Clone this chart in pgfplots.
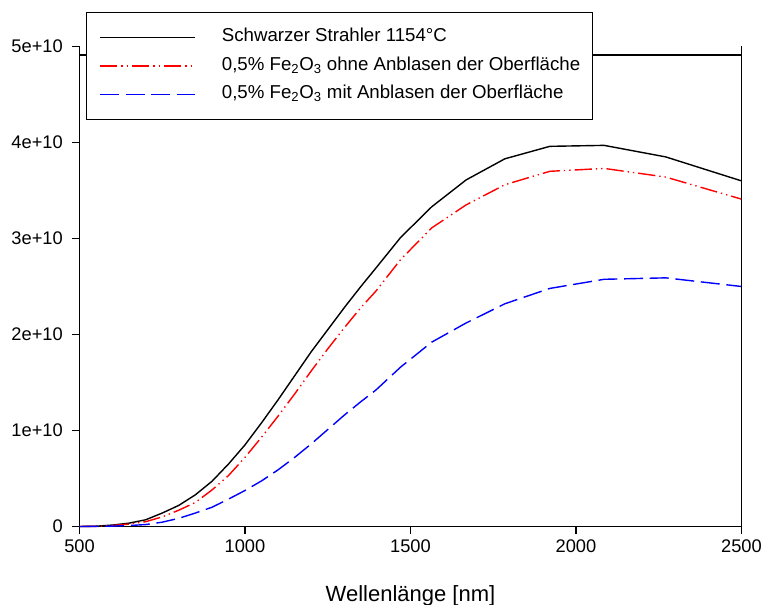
\documentclass[border=0pt]{standalone}
\usepackage{fontspec}
\setmainfont{Liberation Sans}
\usepackage{pgfplots}
\usepackage{pgfplotstable}
\pgfplotsset{compat=1.18}

% spectral radiance, in units of 1e10
\pgfplotstableread{
x     black  red    blue
500   0.000  0.000  0.000
550   0.003  0.002  0.001
600   0.015  0.010  0.004
650   0.035  0.025  0.010
700   0.070  0.050  0.020
750   0.140  0.100  0.045
800   0.220  0.170  0.085
850   0.330  0.250  0.140
900   0.470  0.380  0.200
950   0.650  0.530  0.285
1000  0.850  0.720  0.375
1050  1.080  0.930  0.475
1100  1.320  1.150  0.590
1150  1.570  1.380  0.720
1200  1.820  1.620  0.860
1250  2.050  1.850  1.010
1300  2.280  2.070  1.160
1350  2.500  2.280  1.300
1395  2.690  2.450  1.420
1470  3.010  2.780  1.660
1564  3.330  3.110  1.920
1668  3.610  3.350  2.120
1785  3.830  3.560  2.320
1921  3.960  3.700  2.480
2085  3.970  3.730  2.575
2271  3.850  3.640  2.590
2500  3.600  3.410  2.500
}\spectra

\begin{document}
\begin{tikzpicture}
\begin{axis}[
  at={(0,0)}, anchor=south west,
  scale only axis,
  width=496.5pt, height=360pt,
  xmin=500, xmax=2500,
  ymin=0, ymax=5e10,
  axis x line*=bottom, axis y line*=left,
  axis line style={line width=0.9pt},
  tick align=outside,
  major tick length=5.6pt,
  every tick/.style={black, line width=0.9pt},
  xtick={500,1000,...,2500},
  ytick={0,1e10,2e10,3e10,4e10,5e10},
  yticklabels={0,1e+10,2e+10,3e+10,4e+10,5e+10},
  scaled y ticks=false,
  /pgf/number format/assume math mode=true,
  /pgf/number format/1000 sep={},
  tick label style={font=\fontsize{13.7}{16}\selectfont, inner sep=0pt},
  xticklabel shift=4.5pt,
  yticklabel shift=6.75pt,
  xlabel={Wellenlänge [nm]},
  xlabel style={at={(axis description cs:0.5,0)}, anchor=base, yshift=-55.9pt,
    font=\fontsize{16.5}{19}\selectfont},
  clip=false,
  legend cell align=left,
  legend image code/.code={\draw[#1] (0pt,0pt) -- (71pt,0pt);},
  legend style={
    at={(axis description cs:0.0098,1.0719)}, anchor=north west,
    draw=black, line width=0.75pt, fill=white,
    inner xsep=9.5pt, inner ysep=12pt, row sep=7.9pt, column sep=20pt,
    font=\fontsize{14}{16.8}\selectfont,
    nodes={inner sep=0pt, text height=10pt, text depth=3.5pt},
  },
]
\addplot[black, line width=1.05pt] table[x=x, y expr=\thisrow{black}*1e10] {\spectra};
\addlegendentry{Schwarzer Strahler 1154°C}
\addplot[red, line width=1.05pt, dash pattern=on 13pt off 3pt on 1pt off 3pt on 1pt off 3pt]
  table[x=x, y expr=\thisrow{red}*1e10] {\spectra};
\addlegendentry{0,5\% Fe\textsubscript{2}O\textsubscript{3} ohne Anblasen der Oberfläche}
\addplot[blue, line width=1.05pt, dash pattern=on 14.25pt off 5pt]
  table[x=x, y expr=\thisrow{blue}*1e10] {\spectra};
\addlegendentry{0,5\% Fe\textsubscript{2}O\textsubscript{3} mit Anblasen der Oberfläche}
% right spine and the frame line just under the top
\draw[line width=0.9pt] (rel axis cs:1,0) -- (rel axis cs:1,1);
\draw[line width=0.9pt] (rel axis cs:0,0.9823) -- (rel axis cs:1,0.9823);
\end{axis}
\pgfresetboundingbox
\path[use as bounding box] (-59.625pt,-58.875pt) rectangle (514.125pt,394.875pt);
\end{tikzpicture}
\end{document}
